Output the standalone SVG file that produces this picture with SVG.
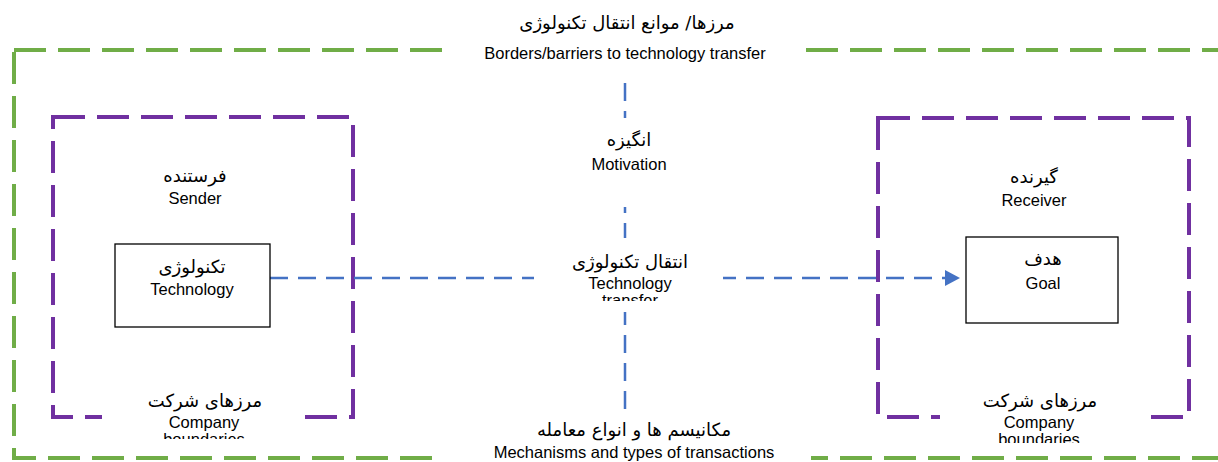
<svg xmlns="http://www.w3.org/2000/svg" width="1218" height="462" viewBox="0 0 1218 462">
  <style>
    .green { fill: none; stroke: #70AD47; stroke-width: 4; stroke-dasharray: 32 12; }
    .purple { fill: none; stroke: #7030A0; stroke-width: 4; stroke-dasharray: 32 12; }
    .blue { fill: none; stroke: #4472C4; stroke-width: 2.5; stroke-dasharray: 18 10; }
    .box { fill: #FFFFFF; stroke: #000000; stroke-width: 1.3; }
    .tb { fill: #FFFFFF; stroke: none; }
    .en { font-family: "Liberation Sans", Arial, sans-serif; font-size: 16.5px; fill: #000; text-anchor: middle; }
    .fa { font-family: "DejaVu Sans", sans-serif; font-size: 18px; fill: #000; text-anchor: middle; }
  </style>
  <defs>
    <marker id="arrow" markerWidth="16" markerHeight="16" refX="0" refY="8" orient="auto" markerUnits="userSpaceOnUse">
      <path d="M0,0 L15,8 L0,16 z" fill="#4472C4"/>
    </marker>
    <clipPath id="clipTransfer"><rect x="534" y="238" width="189" height="63"/></clipPath>
    <clipPath id="clipCompL"><rect x="100" y="385" width="205" height="54"/></clipPath>
    <clipPath id="clipCompR"><rect x="940" y="385" width="202" height="58"/></clipPath>
  </defs>
  <rect width="1218" height="462" fill="#FFFFFF"/>

  <g id="border-frame">
    <rect class="green" x="14" y="50" width="1215" height="408"/>
  </g>

  <g id="sender-company">
    <rect class="purple" x="53" y="117" width="300" height="300"/>
  </g>
  <g id="receiver-company">
    <rect class="purple" x="878" y="118" width="311" height="299"/>
  </g>

  <g id="connectors">
    <line class="blue" x1="270" y1="278" x2="945" y2="278" marker-end="url(#arrow)"/>
    <line class="blue" x1="625" y1="83" x2="625" y2="412"/>
  </g>

  <g id="title">
    <rect class="tb" x="452" y="4" width="347" height="79"/>
    <text class="fa" x="627" y="29" direction="rtl">مرزها/ موانع انتقال تکنولوژی</text>
    <text class="en" x="625" y="59">Borders/barriers to technology transfer</text>
  </g>

  <g id="sender-label">
    <text class="fa" x="195" y="182" direction="rtl">فرستنده</text>
    <text class="en" x="195" y="204">Sender</text>
  </g>

  <g id="receiver-label">
    <text class="fa" x="1034" y="183" direction="rtl">گیرنده</text>
    <text class="en" x="1034" y="206">Receiver</text>
  </g>

  <g id="technology">
    <rect class="box" x="115" y="244" width="155" height="83"/>
    <text class="fa" x="192" y="273" direction="rtl">تکنولوژی</text>
    <text class="en" x="192" y="295">Technology</text>
  </g>

  <g id="goal">
    <rect class="box" x="966" y="237" width="152" height="86"/>
    <text class="fa" x="1043" y="265" direction="rtl">هدف</text>
    <text class="en" x="1043" y="289">Goal</text>
  </g>

  <g id="motivation">
    <rect class="tb" x="570" y="118" width="115" height="89"/>
    <text class="fa" x="629" y="146" direction="rtl">انگیزه</text>
    <text class="en" x="629" y="170">Motivation</text>
  </g>

  <g id="technology-transfer">
    <rect class="tb" x="534" y="238" width="189" height="74"/>
    <g clip-path="url(#clipTransfer)">
      <text class="fa" x="630" y="268" direction="rtl">انتقال تکنولوژی</text>
      <text class="en" x="630" y="289">Technology</text>
      <text class="en" x="630" y="306">transfer</text>
    </g>
  </g>

  <g id="mechanisms">
    <rect class="tb" x="443" y="412" width="368" height="60"/>
    <text class="fa" x="634" y="436" direction="rtl">مکانیسم ها و انواع معامله</text>
    <text class="en" x="634" y="458">Mechanisms and types of transactions</text>
  </g>

  <g id="company-boundaries-left">
    <rect class="tb" x="102" y="385" width="203" height="54"/>
    <g clip-path="url(#clipCompL)">
      <text class="fa" x="205" y="407" direction="rtl">مرزهای شرکت</text>
      <text class="en" x="204" y="428">Company</text>
      <text class="en" x="204" y="445">boundaries</text>
    </g>
  </g>

  <g id="company-boundaries-right">
    <rect class="tb" x="940" y="385" width="202" height="58"/>
    <g clip-path="url(#clipCompR)">
      <text class="fa" x="1040" y="407" direction="rtl">مرزهای شرکت</text>
      <text class="en" x="1039" y="428">Company</text>
      <text class="en" x="1039" y="445">boundaries</text>
    </g>
  </g>
</svg>
